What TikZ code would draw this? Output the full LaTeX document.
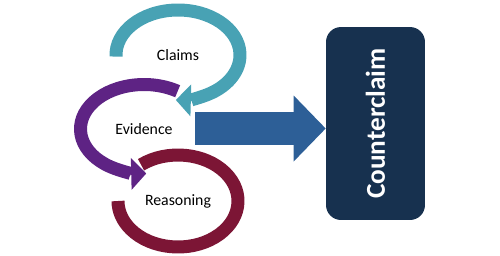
\documentclass[tikz,border=0pt]{standalone}
\usepackage{fontspec}
\setmainfont{Carlito}
\usetikzlibrary{arrows.meta}
\definecolor{claimteal}{RGB}{72,162,180}
\definecolor{evidpurple}{RGB}{94,35,132}
\definecolor{reasmaroon}{RGB}{124,21,53}
\definecolor{arrowblue}{RGB}{45,95,151}
\definecolor{boxnavy}{RGB}{23,49,79}
\tikzset{
  ring/.style={line width=0.26cm},
  ringtip/.style={-{Triangle[width=0.64cm,length=0.3cm,line width=0pt]}},
  bigarrow/.style={arrowblue, line width=0.66cm,
    -{Triangle[width=1.32cm,length=0.64cm,line width=0pt]}},
  ccbox/.style={fill=boxnavy, rounded corners=0.3cm, rotate=90, inner sep=0pt,
    minimum width=3.86cm, minimum height=1.98cm, text=white,
    font=\fontsize{15.5}{18}\selectfont\bfseries}
}
\begin{document}
\begin{tikzpicture}[x=0.02cm, y=0.02cm, font=\fontsize{9}{11}\selectfont]
\useasboundingbox (0,0) rectangle (500,255);
\node (claims) at (178,200) {Claims};
\node (evidence) at (144,126) {Evidence};
\node (reasoning) at (178,54) {Reasoning};
\node[ccbox] (counterclaim) at (375.5,131.5) {Counterclaim};
% the three rings
\draw[ring, reasmaroon] (reasoning.center) ++(128:60 and 46)
    arc[start angle=128, end angle=-180, x radius=60, y radius=46];
\draw[ring, ringtip, evidpurple] (evidence.center) ++(58:63.5 and 44.5)
    arc[start angle=58, end angle=272, x radius=63.5, y radius=44.5];
\draw[ring, ringtip, claimteal] (claims.center) ++(182:62 and 45)
    arc[start angle=182, end angle=-92, x radius=62, y radius=45];
% big arrow (box is turned, so its north side faces left)
\coordinate (tail) at (195,126.5);
\draw[bigarrow] (tail) -- (tail -| counterclaim.north);
\end{tikzpicture}
\end{document}
